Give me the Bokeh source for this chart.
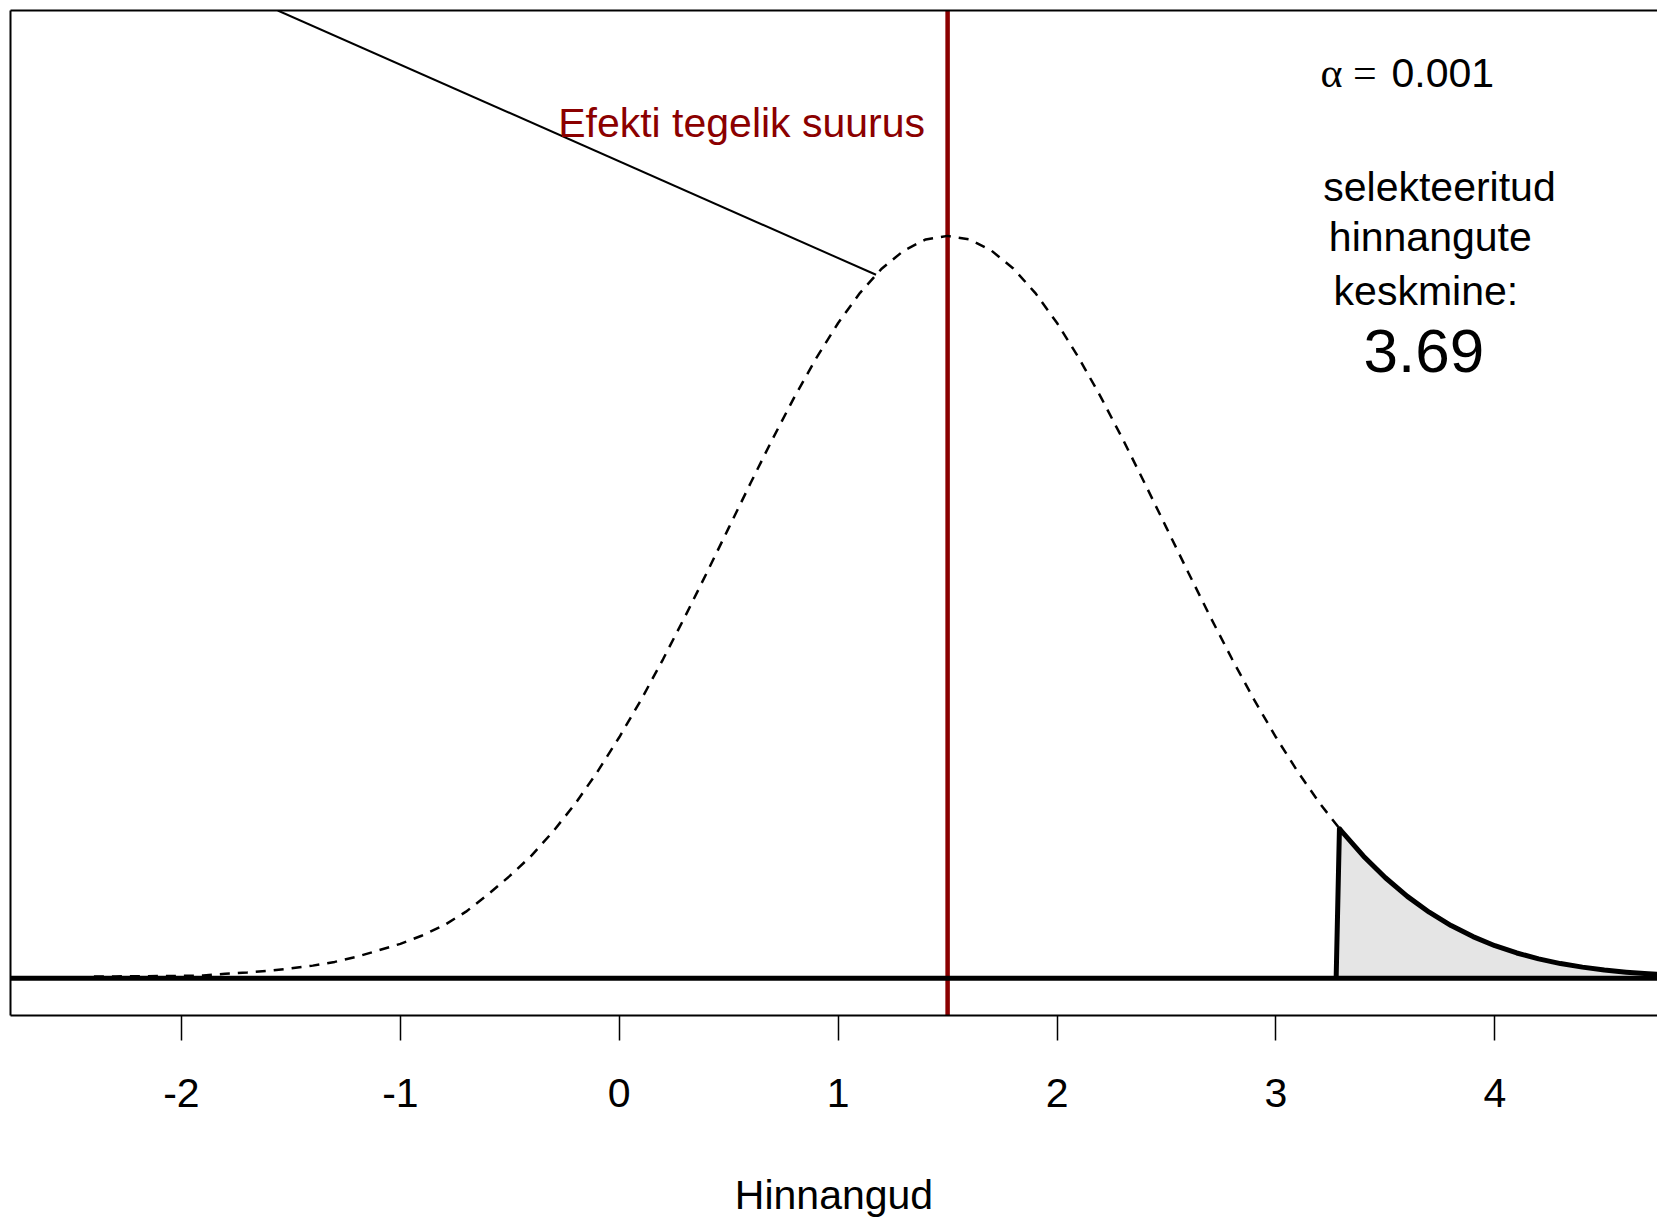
from bokeh.plotting import figure
from bokeh.models import Range1d, LinearAxis, FixedTicker, Span
from bokeh.core.properties import value
from bokeh.embed import file_html
from bokeh.resources import INLINE

# ---- data ----
dens_x = [-2.4, -2.3, -2.2, -2.1, -2.0, -1.9, -1.8, -1.7, -1.6, -1.5, -1.4, -1.3,
          -1.2, -1.1, -1.0, -0.9, -0.8, -0.7, -0.6, -0.5, -0.4, -0.3, -0.2, -0.1,
          0.0, 0.1, 0.2, 0.3, 0.4, 0.5, 0.6, 0.7, 0.8, 0.9, 1.0, 1.1, 1.2, 1.3,
          1.4, 1.5, 1.6, 1.7, 1.8, 1.9, 2.0, 2.1, 2.2, 2.3, 2.4, 2.5, 2.6, 2.7,
          2.8, 2.9, 3.0, 3.1, 3.2, 3.3, 3.4, 3.5, 3.6, 3.7, 3.8, 3.9, 4.0, 4.1,
          4.2, 4.3, 4.4, 4.5, 4.6, 4.7, 4.8]
dens_y = [0.0010, 0.0010, 0.0011, 0.0012, 0.0013, 0.0015, 0.0024, 0.0031, 0.0041,
          0.0053, 0.0068, 0.0088, 0.0115, 0.0150, 0.0185, 0.0230, 0.0285, 0.0358,
          0.0450, 0.0550, 0.0660, 0.0792, 0.0940, 0.1109, 0.1295, 0.1497, 0.1714,
          0.1942, 0.2179, 0.2420, 0.2661, 0.2897, 0.3123, 0.3332, 0.3521, 0.3683,
          0.3814, 0.3910, 0.3970, 0.3989, 0.3970, 0.3910, 0.3814, 0.3683, 0.3521,
          0.3332, 0.3123, 0.2897, 0.2661, 0.2420, 0.2179, 0.1942, 0.1714, 0.1497,
          0.1295, 0.1109, 0.0940, 0.0790, 0.0656, 0.0540, 0.0440, 0.0355, 0.0283,
          0.0224, 0.0175, 0.0136, 0.0104, 0.0079, 0.0060, 0.0044, 0.0033, 0.0024,
          0.0017]

true_effect = 1.5
threshold = 3.29
threshold_density = 0.0804
threshold_foot = 3.275
selected_mean = "3.69"
alpha_label = "0.001"

pointer_x = [-1.56, 1.173]
pointer_y = [0.52, 0.378]

tick_values = [-2, -1, 0, 1, 2, 3, 4]
tick_labels = ["-2", "-1", "0", "1", "2", "3", "4"]

# tail (selected estimates) taken from the density values beyond the threshold
tail_x = [threshold_foot, threshold] + [x for x in dens_x if x > threshold]
tail_y = [0.0, threshold_density] + [y for x, y in zip(dens_x, dens_y) if x > threshold]

SANS = "Liberation Sans"
SERIF = "Liberation Serif"
DARKRED = "#8B0000"

p = figure(width=1657, height=1221, output_backend="svg", toolbar_location=None,
           x_axis_type=None, y_axis_type=None,
           x_range=Range1d(-2.781, 4.743), y_range=Range1d(-0.02, 0.52),
           min_border_left=10, min_border_right=0, min_border_top=10, min_border_bottom=206)
p.outline_line_color = None
p.background_fill_color = "white"
p.border_fill_color = "white"

# bottom axis
xa = LinearAxis(ticker=FixedTicker(ticks=tick_values), axis_label="Hinnangud")
xa.major_label_overrides = {v: s for v, s in zip(tick_values, tick_labels)}
xa.axis_line_width = 2
xa.axis_line_color = "black"
xa.major_tick_out = 25
xa.major_tick_in = 0
xa.minor_tick_out = 0
xa.minor_tick_in = 0
xa.major_tick_line_width = 1.5
xa.major_tick_line_color = "black"
xa.major_label_text_font = SANS
xa.major_label_text_font_size = "41px"
xa.major_label_text_color = "black"
xa.major_label_standoff = 38
xa.axis_label_text_font = SANS
xa.axis_label_text_font_size = "41px"
xa.axis_label_text_font_style = "normal"
xa.axis_label_text_color = "black"
xa.axis_label_standoff = 62
p.add_layout(xa, "below")

def empty_axis():
    a = LinearAxis(ticker=FixedTicker(ticks=[]))
    a.axis_line_width = 2
    a.axis_line_color = "black"
    a.major_tick_out = 0
    a.major_tick_in = 0
    a.minor_tick_out = 0
    a.minor_tick_in = 0
    a.major_label_text_font_size = "0px"
    a.major_label_standoff = 0
    return a

p.add_layout(empty_axis(), "left")
p.add_layout(empty_axis(), "above")

# true effect line
p.add_layout(Span(location=true_effect, dimension="height", line_color=DARKRED,
                  line_width=4.5, level="underlay"))

# shaded tail
p.patch(tail_x + [tail_x[-1]], tail_y + [0.0], fill_color="#E5E5E5", line_color=None)

# dashed density
p.line(dens_x, dens_y, line_color="black", line_width=2.5, line_dash="10 8")

# tail outline
p.line(tail_x, tail_y, line_color="black", line_width=5, line_join="round")

# zero line
p.add_layout(Span(location=0, dimension="width", line_color="black", line_width=5))

# pointer line
p.line(pointer_x, pointer_y, line_color="black", line_width=2)

# texts (y = visual centre of each line)
p.text(x=[1.397], y=[0.4598], text=["Efekti tegelik suurus"], text_color=DARKRED,
       text_font=value(SANS), text_font_size="41px", text_align="right",
       text_baseline="alphabetic")
p.text(x=[3.203], y=[0.4865], text=["\u03b1 ="], text_color="black",
       text_font=value(SERIF), text_font_size="42px", text_align="left",
       text_baseline="alphabetic")
p.text(x=[3.528], y=[0.4865], text=[alpha_label], text_color="black",
       text_font=value(SANS), text_font_size="41px", text_align="left",
       text_baseline="alphabetic")
p.text(x=[3.747, 3.705, 3.685], y=[0.4253, 0.3984, 0.3695],
       text=["selekteeritud", "hinnangute", "keskmine:"], text_color="black",
       text_font=value(SANS), text_font_size="41px", text_align="center",
       text_baseline="alphabetic")
p.text(x=[3.676], y=[0.3372], text=[selected_mean], text_color="black",
       text_font=value(SANS), text_font_size="62px", text_align="center",
       text_baseline="alphabetic")

open("out.html", "w").write(file_html(p, INLINE))
